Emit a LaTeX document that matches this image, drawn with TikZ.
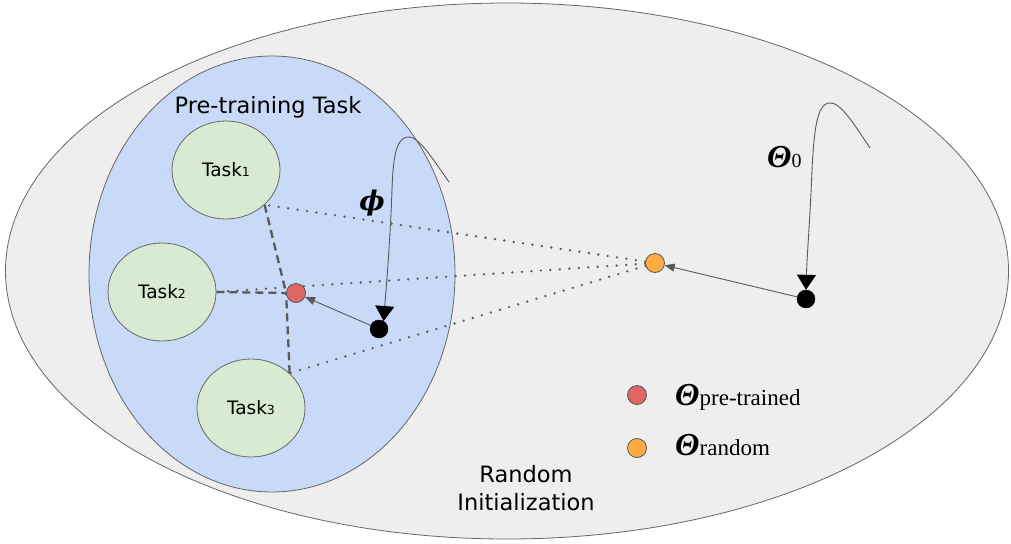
\documentclass[tikz,border=0pt]{standalone}
\usepackage{fontspec}
\setmainfont{DejaVu Sans}
\newfontfamily\tmsfont{Liberation Serif}
\newfontfamily\dvserif{DejaVu Serif}
\usetikzlibrary{shapes.geometric,arrows.meta}
\definecolor{outerfill}{HTML}{EEEEEE}
\definecolor{bluefill}{HTML}{C9DAF8}
\definecolor{greenfill}{HTML}{D9EAD3}
\definecolor{redfill}{HTML}{E06666}
\definecolor{orangefill}{HTML}{FFAB40}
\definecolor{edgegray}{HTML}{666666}
\definecolor{linegray}{HTML}{595959}
\pgfdeclarelayer{back}
\pgfdeclarelayer{mid}
\pgfsetlayers{back,mid,main}
\newcommand{\bth}{{\tmsfont\bfseries\itshape Θ}}
\begin{document}
\begin{tikzpicture}[x=1pt,y=-1pt,
  region/.style={ellipse, draw=edgegray, line width=0.8pt, inner sep=0pt},
  taskbox/.style={ellipse, draw=edgegray, line width=0.8pt, fill=greenfill, inner sep=0pt,
    minimum width=108pt, minimum height=98pt, font=\fontsize{18.5}{18.5}\selectfont},
  pt/.style={circle, draw=linegray, line width=0.8pt, inner sep=0pt, minimum size=19pt},
  blackpt/.style={circle, fill=black, draw=black, inner sep=0pt, minimum size=18pt},
  dottedline/.style={linegray, line width=2.6pt, line cap=round, dash pattern=on 0pt off 9.5pt},
  dashline/.style={linegray, line width=2.3pt, dash pattern=on 8pt off 5pt},
  movearrow/.style={linegray, line width=0.9pt, -{Triangle[length=10pt,width=8pt]}},
  pathcurve/.style={linegray, line width=0.9pt, -{Triangle[length=15pt,width=19pt,color=black]}},
  lbl/.style={font=\fontsize{22.5}{22.5}\selectfont, inner sep=0pt},
  mathlbl/.style={inner sep=0pt, anchor=base west}
]
\useasboundingbox (0,0) rectangle (1011,543);

\begin{pgfonlayer}{back}
\node[region, fill=outerfill, minimum width=1003pt, minimum height=536pt] (outer) at (507,271) {};
\node[region, fill=bluefill, minimum width=366pt, minimum height=436pt] (pretrain) at (272,274) {};
\node[taskbox] (t1) at (226,170) {Task{\fontsize{12.5}{12.5}\selectfont 1}};
\node[taskbox] (t2) at (162,292) {Task{\fontsize{12.5}{12.5}\selectfont 2}};
\node[taskbox] (t3) at (251,408) {Task{\fontsize{12.5}{12.5}\selectfont 3}};
\end{pgfonlayer}

\node[lbl, anchor=base] (ptlabel) at (268,113) {Pre-training Task};
\node[lbl, anchor=base] (rand1) at (526,482) {Random};
\node[lbl, anchor=base] (rand2) at (526,510) {Initialization};

% points
\node[pt, fill=redfill] (red) at (296,293) {};
\node[pt, fill=orangefill] (orange) at (655,263) {};
\node[blackpt] (b1) at (379,329) {};
\node[blackpt] (b2) at (806,299) {};

\begin{pgfonlayer}{mid}
\draw[dottedline] (orange) -- (t1.-42);
\draw[dottedline] (orange) -- (t2.east);
\draw[dottedline] (orange) -- (t3.42);
\draw[dashline] (t1.-42) -- (red.west);
\draw[dashline] (t2.east) -- (red.west);
\draw[dashline] (t3.42) -- (red.west);
\end{pgfonlayer}

\draw[movearrow] (b1) -- (red);
\draw[movearrow] (b2) -- (orange);

% trajectories
\coordinate (phistart) at (449,182);
\coordinate (thstart) at (870,148);
\draw[pathcurve] (phistart) .. controls (432,158) and (418,135) .. (407,137)
  .. controls (396,139) and (393,158) .. (392,190)
  .. controls (390,245) and (386,290) .. (b1.60);
\draw[pathcurve] (thstart) .. controls (855,126) and (840,100) .. (828,103)
  .. controls (817,106) and (814,130) .. (812,170)
  .. controls (810,220) and (807,255) .. (b2.north);

\node[inner sep=0pt] (philabel) at (372,203) {\fontsize{27}{27}\selectfont{\dvserif\bfseries\itshape ϕ}};
\node[mathlbl] (th0label) at (767,167) {\fontsize{32}{32}\selectfont\bth{\tmsfont\fontsize{20}{20}\selectfont 0}};

% legend
\node[pt, fill=redfill] (legred) at (637,395) {};
\node[pt, fill=orangefill] (legorange) at (637,448) {};
\node[mathlbl] (legredlabel) at (675,405) {\fontsize{32}{32}\selectfont\bth{\tmsfont\fontsize{23}{23}\selectfont pre-trained}};
\node[mathlbl] (legorangelabel) at (675,455) {\fontsize{32}{32}\selectfont\bth{\tmsfont\fontsize{23}{23}\selectfont random}};
\end{tikzpicture}
\end{document}
